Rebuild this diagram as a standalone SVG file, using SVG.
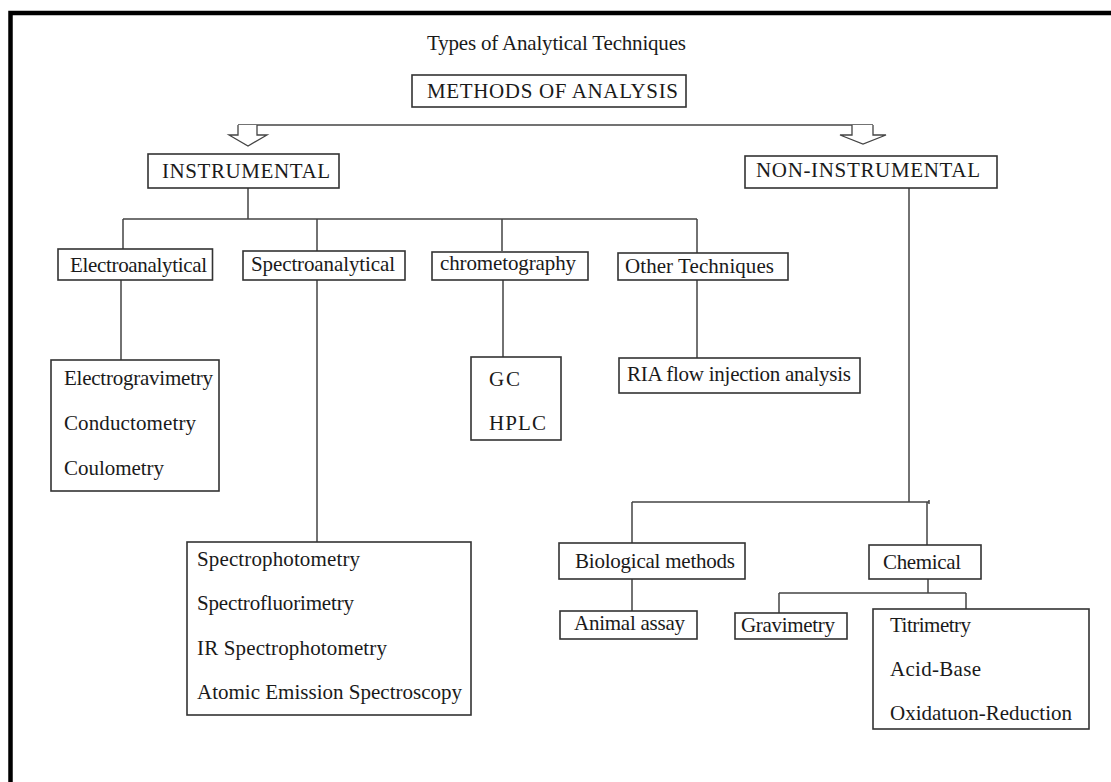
<svg xmlns="http://www.w3.org/2000/svg" width="1111" height="782" viewBox="0 0 1111 782">
<style>
text{font-family:"Liberation Serif","Times New Roman",serif;font-size:21px;fill:#1a1a1a}
.box{fill:#fff;stroke:#333;stroke-width:1.6}
.ln{stroke:#444;stroke-width:1.5;fill:none}
.arr{fill:#fff;stroke:#444;stroke-width:1.3;stroke-linejoin:miter}
.frame{stroke:#000;stroke-width:4.5;fill:none}
</style>
<rect x="0" y="0" width="1111" height="782" fill="#fff"/>
<path class="frame" d="M10.5 782 V13 H1111"/>
<text x="427" y="50" textLength="259">Types of Analytical Techniques</text>
<g id="connectors">
<path class="ln" d="M238 125 H873"/>
<path class="arr" d="M238 125 V135 H229 L248 146 L267 135 H257 V125"/>
<path class="arr" d="M852 125 V135 H840 L863 144 L886 135 H873 V125"/>
<path class="ln" d="M248 188 V219 M123 219 H697 M123 219 V251 M317 219 V251 M502 219 V251 M697 219 V253"/>
<path class="ln" d="M121 280 V360 M317 280 V542 M503 280 V357 M697 280 V358"/>
<path class="ln" d="M909 188 V502 M632 502 H929 M929 500 V504 M632 502 V543 M927 502 V545"/>
<path class="ln" d="M632 579 V611 M928 579 V593 M779 593 H966 M779 593 V613 M966 593 V609"/>
</g>
<g id="methods"><rect class="box" x="412" y="75" width="274" height="32"/><text x="427" y="98" textLength="251">METHODS OF ANALYSIS</text></g>
<g id="instrumental"><rect class="box" x="148" y="154" width="191" height="34"/><text x="162" y="178" textLength="168">INSTRUMENTAL</text></g>
<g id="non-instrumental"><rect class="box" x="745" y="156" width="252" height="32"/><text x="756" y="177" textLength="224">NON-INSTRUMENTAL</text></g>
<g id="electroanalytical"><rect class="box" x="58" y="249" width="154.5" height="31"/><text x="70" y="272" textLength="137">Electroanalytical</text></g>
<g id="spectroanalytical"><rect class="box" x="243" y="251" width="162" height="29"/><text x="251" y="271" textLength="144">Spectroanalytical</text></g>
<g id="chrometography"><rect class="box" x="432" y="252" width="156" height="28"/><text x="440" y="270" textLength="136">chrometography</text></g>
<g id="other"><rect class="box" x="618" y="253" width="170" height="27"/><text x="625" y="273" textLength="149">Other Techniques</text></g>
<g id="electro-list"><rect class="box" x="51" y="360" width="168" height="131"/>
<text x="64" y="385" textLength="149">Electrogravimetry</text>
<text x="64" y="430" textLength="132">Conductometry</text>
<text x="64" y="475" textLength="100">Coulometry</text></g>
<g id="gc-list"><rect class="box" x="471" y="357" width="90" height="83"/>
<text x="489" y="386" textLength="31">GC</text>
<text x="489" y="430" textLength="57">HPLC</text></g>
<g id="ria"><rect class="box" x="619" y="358" width="241" height="35"/><text x="627" y="381" textLength="224">RIA flow injection analysis</text></g>
<g id="spectro-list"><rect class="box" x="187" y="542" width="284" height="173"/>
<text x="197" y="566" textLength="163">Spectrophotometry</text>
<text x="197" y="610" textLength="157">Spectrofluorimetry</text>
<text x="197" y="655" textLength="190">IR Spectrophotometry</text>
<text x="197" y="699" textLength="265">Atomic Emission Spectroscopy</text></g>
<g id="biological"><rect class="box" x="559" y="543" width="186" height="36"/><text x="575" y="568" textLength="160">Biological methods</text></g>
<g id="chemical"><rect class="box" x="869" y="545" width="112" height="34"/><text x="883" y="569" textLength="78">Chemical</text></g>
<g id="animal"><rect class="box" x="560" y="611" width="137" height="28"/><text x="574" y="630" textLength="111">Animal assay</text></g>
<g id="gravimetry"><rect class="box" x="735" y="613" width="112" height="26"/><text x="741" y="632" textLength="94">Gravimetry</text></g>
<g id="titrimetry-list"><rect class="box" x="873" y="609" width="216" height="120"/>
<text x="890" y="632" textLength="81">Titrimetry</text>
<text x="890" y="676" textLength="91">Acid-Base</text>
<text x="890" y="720" textLength="182">Oxidatuon-Reduction</text></g>
</svg>
